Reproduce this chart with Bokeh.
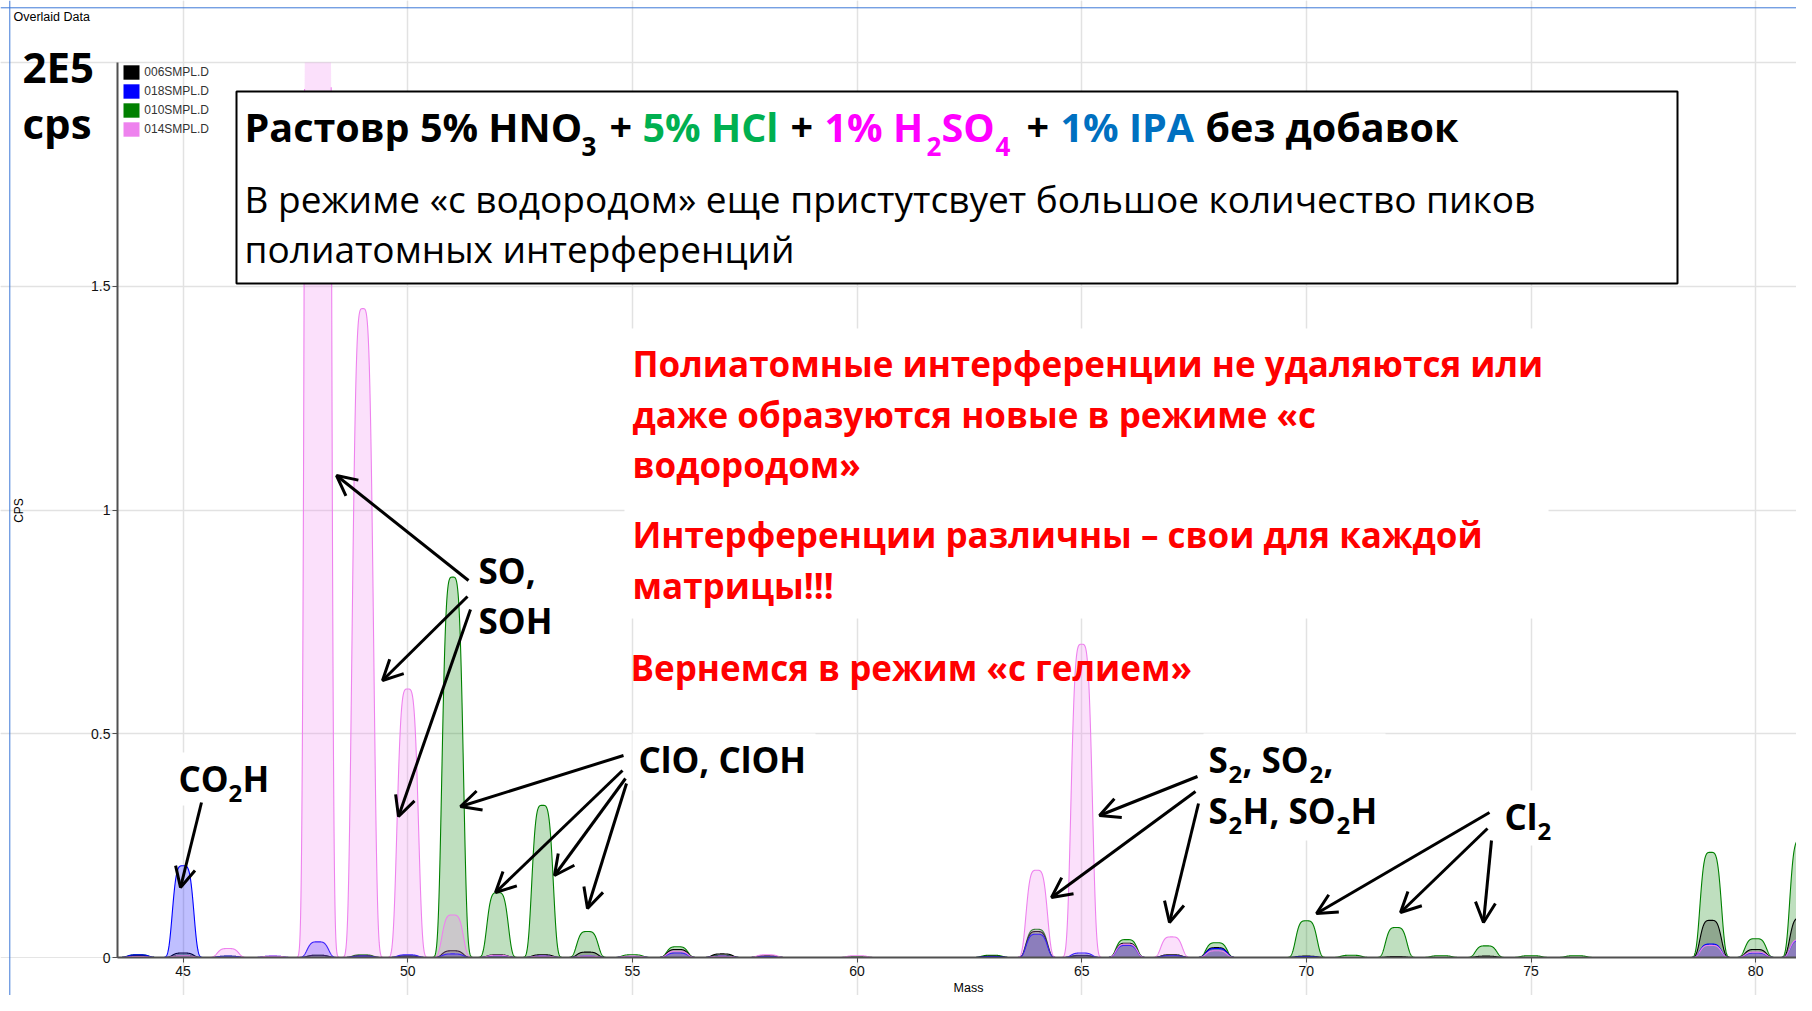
import numpy as np
from bokeh.plotting import figure
from bokeh.models import (Range1d, FixedTicker, Label, Arrow, OpenHead, BoxAnnotation,
                          Legend, LegendItem, LinearAxis, Grid, Span)
from bokeh.embed import file_html
from bokeh.resources import INLINE

# ---------------- data (peak heights, units of 1E5 cps) ----------------
masses = list(range(44, 82))
s006 = [0.004, 0.010, 0.000, 0.000, 0.005, 0.004, 0.003, 0.015, 0.006, 0.006,
        0.012, 0.002, 0.018, 0.008, 0.004, 0.000, 0.000, 0.000, 0.000, 0.003,
        0.058, 0.004, 0.032, 0.006, 0.022, 0.000, 0.003, 0.000, 0.002, 0.000,
        0.003, 0.000, 0.000, 0.000, 0.000, 0.083, 0.018, 0.088]
s018 = [0.006, 0.205, 0.003, 0.003, 0.035, 0.003, 0.006, 0.008, 0.004, 0.003,
        0.003, 0.002, 0.010, 0.003, 0.002, 0.000, 0.000, 0.000, 0.000, 0.002,
        0.052, 0.010, 0.027, 0.004, 0.020, 0.000, 0.002, 0.000, 0.000, 0.000,
        0.000, 0.000, 0.000, 0.000, 0.000, 0.030, 0.010, 0.038]
s010 = [0.006, 0.005, 0.003, 0.000, 0.005, 0.006, 0.004, 0.850, 0.145, 0.340,
        0.058, 0.006, 0.024, 0.005, 0.003, 0.000, 0.002, 0.000, 0.000, 0.005,
        0.063, 0.005, 0.040, 0.006, 0.033, 0.000, 0.082, 0.005, 0.067, 0.004,
        0.026, 0.004, 0.004, 0.000, 0.000, 0.235, 0.042, 0.262]
s014 = [0.002, 0.004, 0.020, 0.003, 10.0, 1.450, 0.600, 0.095, 0.005, 0.003,
        0.003, 0.003, 0.014, 0.003, 0.006, 0.000, 0.004, 0.000, 0.000, 0.000,
        0.195, 0.700, 0.030, 0.046, 0.015, 0.000, 0.000, 0.000, 0.000, 0.000,
        0.000, 0.000, 0.000, 0.000, 0.000, 0.027, 0.012, 0.040]
series_names = ["006SMPL.D", "018SMPL.D", "010SMPL.D", "014SMPL.D"]
x_ticks = [45, 50, 55, 60, 65, 70, 75, 80]
y_ticks = [0, 0.5, 1, 1.5]
y_tick_labels = ["0", "0.5", "1", "1.5"]

# ---------------- geometry ----------------
W, H = 1796, 995
PX_PER_AMU = 44.93          # canvas pixels per mass unit
PX_45 = 182.6               # canvas x of mass 45
PX_PER_UNIT = 447.5         # canvas pixels per 1E5 cps
PY_0 = 957.0                # canvas y of 0 cps
XL = 45 - PX_45 / PX_PER_AMU
XR = 45 + (W - PX_45) / PX_PER_AMU
YB = (PY_0 - H) / PX_PER_UNIT
YT = PY_0 / PX_PER_UNIT

def px2x(px):
    return 45 + (px - PX_45) / PX_PER_AMU

def py2y(py):
    return (PY_0 - py) / PX_PER_UNIT

X0 = px2x(117)     # left end of the plotting area
Y_TOP = 2.0        # top of the plotting area

p = figure(width=W, height=H, output_backend="svg", toolbar_location=None,
           x_range=Range1d(XL, XR), y_range=Range1d(YB, YT), title=None,
           x_axis_location=None, y_axis_location=None,
           min_border_left=0, min_border_right=0, min_border_top=0, min_border_bottom=0)
p.outline_line_color = None
p.background_fill_color = "white"
p.border_fill_color = "white"

xaxis = LinearAxis(fixed_location=0, bounds=(X0, XR), ticker=FixedTicker(ticks=x_ticks))
yaxis = LinearAxis(fixed_location=X0, bounds=(0, Y_TOP), ticker=FixedTicker(ticks=y_ticks))
yaxis.major_label_overrides = {t: l for t, l in zip(y_ticks, y_tick_labels)}
for ax in (xaxis, yaxis):
    ax.axis_line_color = "#505050"
    ax.axis_line_width = 2
    ax.major_tick_line_color = "#505050"
    ax.major_tick_out = 5
    ax.major_tick_in = 0
    ax.minor_tick_line_color = None
    ax.major_label_text_font = "Liberation Sans"
    ax.major_label_text_font_size = "14px"
    ax.major_label_text_color = "#111111"
xaxis.major_label_standoff = 3
yaxis.major_label_standoff = 2
p.add_layout(xaxis, "below")
p.add_layout(yaxis, "left")

xgrid = Grid(dimension=0, ticker=FixedTicker(ticks=x_ticks), bounds=(0, Y_TOP),
             grid_line_color="#e2e2e2", grid_line_width=1.5)
ygrid = Grid(dimension=1, ticker=FixedTicker(ticks=[0.5, 1, 1.5, 2]), bounds=(X0, XR),
             grid_line_color="#e2e2e2", grid_line_width=1.5)
p.add_layout(xgrid)
p.add_layout(ygrid)

# white backgrounds behind the text blocks (hide grid lines)
boxes = [(624, 1548, 328, 618), (632, 815, 733, 790),
         (1203, 1385, 733, 840), (1495, 1562, 790, 845), (172, 272, 752, 805)]
p.quad(left=[px2x(b[0]) for b in boxes], right=[px2x(b[1]) for b in boxes],
       top=[py2y(b[2]) for b in boxes], bottom=[py2y(b[3]) for b in boxes],
       fill_color="white", line_color=None)

# ---------------- spectra ----------------
grid = np.arange(X0, XR, 0.004)

def profile(heights):
    y = np.zeros_like(grid)
    for m, h in zip(masses, heights):
        if h > 0:
            d = np.abs(grid - m) / 0.22
            y += h * np.exp(-0.5 * d ** 4)
    return y

styles = {
    "006SMPL.D": (s006, "black"),
    "018SMPL.D": (s018, "#0000ff"),
    "010SMPL.D": (s010, "#008000"),
    "014SMPL.D": (s014, "#ee82ee"),
}
for name in ["010SMPL.D", "006SMPL.D", "018SMPL.D", "014SMPL.D"]:
    vals, col = styles[name]
    yv = profile(vals)
    y_fill = np.minimum(yv, Y_TOP)                 # plot area ends at 2E5
    y_line = np.where(yv > Y_TOP, np.nan, yv)
    p.varea(x=grid, y1=np.zeros_like(grid), y2=y_fill, fill_color=col, fill_alpha=0.25)
    p.line(grid, y_line, line_color=col, line_width=1.1)

# legend with solid swatches (carrier quads lie outside the visible range)
legend_colors = ["black", "#0000ff", "#008000", "#ee82ee"]
items = []
for name, col in zip(series_names, legend_colors):
    r = p.quad(left=[XL - 3], right=[XL - 2], top=[-2], bottom=[-3],
               fill_color=col, line_color=None)
    items.append(LegendItem(label=name, renderers=[r]))
legend = Legend(items=items, location=(121.3, H - 62.5 - 75),
                glyph_width=20, glyph_height=18, label_height=18, spacing=1,
                padding=0, label_standoff=3, border_line_color=None,
                background_fill_alpha=0, label_text_font="Liberation Sans",
                label_text_font_size="12px", label_text_color="#333333")
p.add_layout(legend)

# ---------------- title box ----------------
p.add_layout(BoxAnnotation(left=px2x(236), right=px2x(1677), top=py2y(91), bottom=py2y(283),
                           fill_color="white", fill_alpha=1.0, line_color="black",
                           line_alpha=1.0, line_width=2))

def txt(s, px, py, size, color="black", bold=True, font="Open Sans", align="left",
        baseline="alphabetic", angle=0.0):
    # py is the baseline in canvas pixels; bokeh's alphabetic anchor sits ~0.39em lower
    shift = 0.39 * size if baseline == "alphabetic" else 0.0
    p.add_layout(Label(x=px2x(px), y=py2y(py - shift), text=s, text_font=font,
                       text_font_size=f"{size}px", text_color=color,
                       text_font_style="bold" if bold else "normal",
                       text_align=align, text_baseline=baseline, angle=angle))

# title line 1
T, TS = 39.5, 26
GREEN, MAG, BLUE = "#00b050", "#ff00ff", "#0070c0"
txt("Растовр 5% HNO", 244, 142, T)
txt("3", 581, 156, TS)
txt("+", 609, 142, T)
txt("5% HCl", 642, 142, T, GREEN)
txt("+", 790, 142, T)
txt("1% H", 824, 142, T, MAG)
txt("2", 926, 156, TS, MAG)
txt("SO", 941, 142, T, MAG)
txt("4", 995, 156, TS, MAG)
txt("+", 1026, 142, T)
txt("1% IPA", 1060, 142, T, BLUE)
txt("без добавок", 1205, 142, T)
txt("В режиме «с водородом» еще пристутсвует большое количество пиков", 244, 212, 37, bold=False)
txt("полиатомных интерференций", 244, 262, 37, bold=False)

# red text
RED = "#ff0000"
R = 35
txt("Полиатомные интерференции не удаляются или", 632, 377, R, RED)
txt("даже образуются новые в режиме «с", 632, 428, R, RED)
txt("водородом»", 632, 478, R, RED)
txt("Интерференции различны – свои для каждой", 632, 548, R, RED)
txt("матрицы!!!", 632, 599, R, RED)
txt("Вернемся в режим «с гелием»", 630, 681, R, RED)

# black labels
A, AS = 35, 24
txt("CO", 178, 792, A); txt("2", 228, 802, AS); txt("H", 242, 792, A)
txt("SO,", 478, 584, A)
txt("SOH", 478, 634, A)
txt("ClO, ClOH", 638, 773, A)
txt("S", 1208, 773, A); txt("2", 1228, 783, AS); txt(",", 1242, 773, A)
txt("SO", 1261, 773, A); txt("2", 1309, 783, AS); txt(",", 1323, 773, A)
txt("S", 1208, 824, A); txt("2", 1228, 834, AS); txt("H", 1242, 824, A)
txt(",", 1269, 824, A); txt("SO", 1288, 824, A); txt("2", 1336, 834, AS)
txt("H", 1350, 824, A)
txt("Cl", 1504, 830, A); txt("2", 1537, 840, AS)

# arrows (tail -> head), canvas pixels
arrows = [((201, 802), (180, 887)),
          ((468, 580), (336, 475)), ((467, 596), (382, 680)), ((470, 609), (398, 816)),
          ((623, 755), (460, 806)), ((622, 770), (495, 892)), ((625, 778), (554, 875)),
          ((626, 783), (587, 908)),
          ((1197, 776), (1099, 815)), ((1195, 791), (1051, 897)), ((1198, 803), (1169, 922)),
          ((1489, 812), (1316, 913)), ((1487, 828), (1400, 912)), ((1491, 840), (1483, 922))]
for (x0, y0), (x1, y1) in arrows:
    p.add_layout(Arrow(end=OpenHead(size=20, line_width=3, line_color="black"),
                       x_start=px2x(x0), y_start=py2y(y0), x_end=px2x(x1), y_end=py2y(y1),
                       line_width=3, line_color="black"))

# texts outside the plotting area
txt("2E5", 22, 82, 42)
txt("cps", 22, 138, 42)
txt("Overlaid Data", 13, 21, 12.5, bold=False, font="Liberation Sans")
txt("CPS", 18.5, 510, 12, bold=False, font="Liberation Sans", align="center",
    baseline="middle", angle=np.pi / 2)
txt("Mass", 968, 987, 12.5, bold=False, font="Liberation Sans", align="center",
    baseline="middle")

# window frame lines
p.add_layout(Span(location=px2x(9.3), dimension="height", line_color="#3c78d8", line_width=1))
p.add_layout(Span(location=py2y(7.3), dimension="width", line_color="#3c78d8", line_width=1))

open("out.html", "w").write(file_html(p, INLINE))
